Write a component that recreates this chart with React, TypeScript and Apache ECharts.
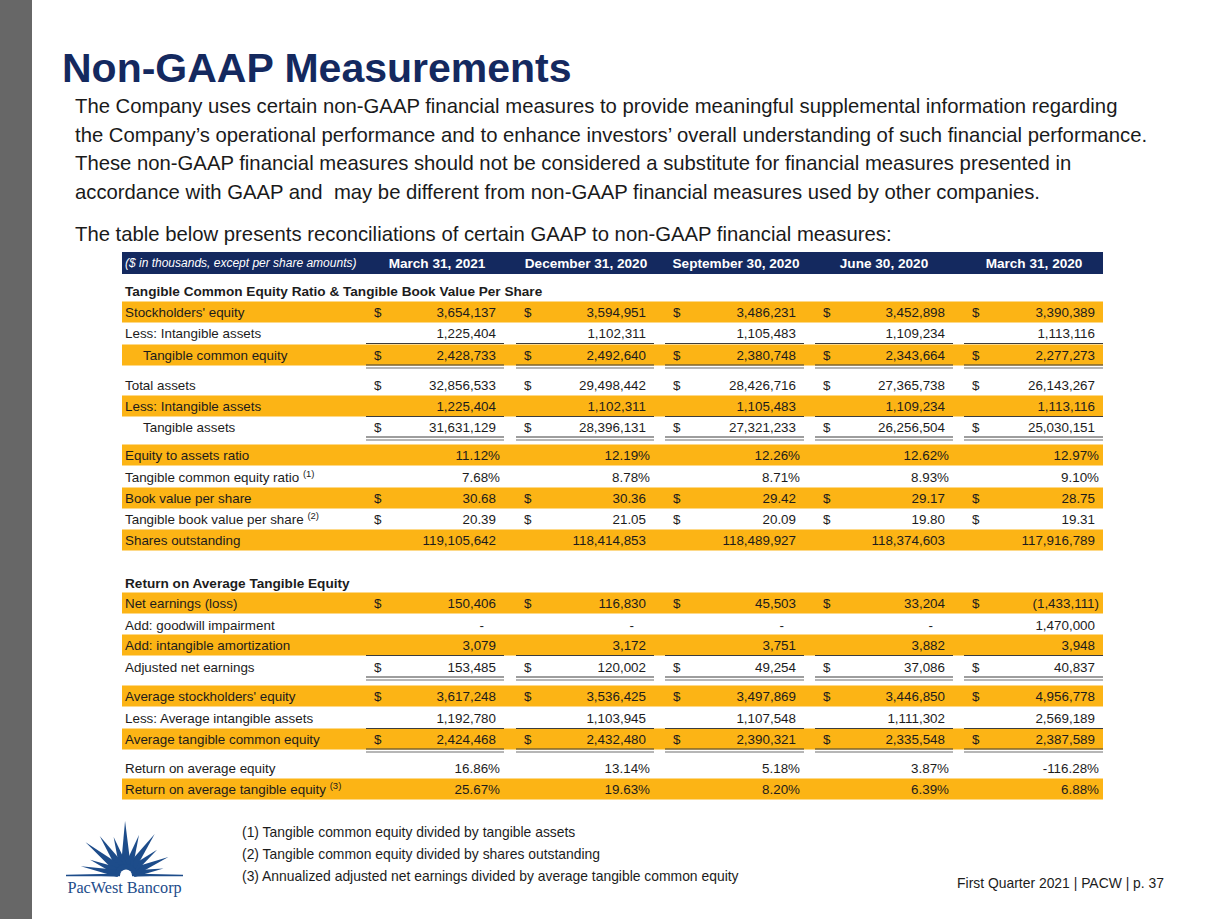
import React, { useEffect, useRef } from "react";
import * as echarts from "echarts";

// ---------------- DATA ----------------
const TITLE = "Non-GAAP Measurements";
const INTRO_LINES = [
  "The Company uses certain non-GAAP financial measures to provide meaningful supplemental information regarding",
  "the Company\u2019s operational performance and to enhance investors\u2019 overall understanding of such financial performance.",
  "These non-GAAP financial measures should not be considered a substitute for financial measures presented in",
  "accordance with GAAP and  may be different from non-GAAP financial measures used by other companies.",
];
const TABLE_NOTE = "The table below presents reconciliations of certain GAAP to non-GAAP financial measures:";
const UNITS_NOTE = "($ in thousands, except per share amounts)";
const periods = ["March 31, 2021", "December 31, 2020", "September 30, 2020", "June 30, 2020", "March 31, 2020"];
const SECTION_TITLES = [
  "Tangible Common Equity Ratio & Tangible Book Value Per Share",
  "Return on Average Tangible Equity",
];

const stockholdersEquity = [3654137, 3594951, 3486231, 3452898, 3390389];
const intangibleAssets = [1225404, 1102311, 1105483, 1109234, 1113116];
const tangibleCommonEquity = [2428733, 2492640, 2380748, 2343664, 2277273];
const totalAssets = [32856533, 29498442, 28426716, 27365738, 26143267];
const tangibleAssets = [31631129, 28396131, 27321233, 26256504, 25030151];
const equityToAssets = [11.12, 12.19, 12.26, 12.62, 12.97];
const tceRatio = [7.68, 8.78, 8.71, 8.93, 9.1];
const bookValue = [30.68, 30.36, 29.42, 29.17, 28.75];
const tangibleBookValue = [20.39, 21.05, 20.09, 19.8, 19.31];
const sharesOutstanding = [119105642, 118414853, 118489927, 118374603, 117916789];
const netEarnings = [150406, 116830, 45503, 33204, -1433111];
const goodwillImpairment = [null, null, null, null, 1470000];
const intangibleAmortization = [3079, 3172, 3751, 3882, 3948];
const adjustedNetEarnings = [153485, 120002, 49254, 37086, 40837];
const avgStockholdersEquity = [3617248, 3536425, 3497869, 3446850, 4956778];
const avgIntangibleAssets = [1192780, 1103945, 1107548, 1111302, 2569189];
const avgTangibleEquity = [2424468, 2432480, 2390321, 2335548, 2387589];
const returnOnAvgEquity = [16.86, 13.14, 5.18, 3.87, -116.28];
const returnOnAvgTangibleEquity = [25.67, 19.63, 8.2, 6.39, 6.88];

const FOOTNOTES = [
  "(1) Tangible common equity divided by tangible assets",
  "(2) Tangible common equity divided by shares outstanding",
  "(3) Annualized adjusted net earnings divided by average tangible common equity",
];
const FOOTER = "First Quarter 2021 | PACW | p. 37";
const LOGO_TEXT = "PacWest Bancorp";

type Fmt = "int" | "pct" | "dec";
interface RowDef {
  label: string;
  values: (number | null)[];
  fmt: Fmt;
  dollar?: boolean;
  sup?: string;
  indent?: boolean;
  rule?: "single" | "double";
}

const rows: RowDef[] = [
  { label: "Stockholders' equity", values: stockholdersEquity, fmt: "int", dollar: true },
  { label: "Less: Intangible assets", values: intangibleAssets, fmt: "int", rule: "single" },
  { label: "Tangible common equity", values: tangibleCommonEquity, fmt: "int", dollar: true, indent: true, rule: "double" },
  { label: "Total assets", values: totalAssets, fmt: "int", dollar: true },
  { label: "Less: Intangible assets", values: intangibleAssets, fmt: "int", rule: "single" },
  { label: "Tangible assets", values: tangibleAssets, fmt: "int", dollar: true, indent: true, rule: "double" },
  { label: "Equity to assets ratio", values: equityToAssets, fmt: "pct" },
  { label: "Tangible common equity ratio", sup: "(1)", values: tceRatio, fmt: "pct" },
  { label: "Book value per share", values: bookValue, fmt: "dec", dollar: true },
  { label: "Tangible book value per share", sup: "(2)", values: tangibleBookValue, fmt: "dec", dollar: true },
  { label: "Shares outstanding", values: sharesOutstanding, fmt: "int" },
  { label: "Net earnings (loss)", values: netEarnings, fmt: "int", dollar: true },
  { label: "Add: goodwill impairment", values: goodwillImpairment, fmt: "int" },
  { label: "Add: intangible amortization", values: intangibleAmortization, fmt: "int", rule: "single" },
  { label: "Adjusted net earnings", values: adjustedNetEarnings, fmt: "int", dollar: true, rule: "double" },
  { label: "Average stockholders' equity", values: avgStockholdersEquity, fmt: "int", dollar: true },
  { label: "Less: Average intangible assets", values: avgIntangibleAssets, fmt: "int", rule: "single" },
  { label: "Average tangible common equity", values: avgTangibleEquity, fmt: "int", dollar: true, rule: "double" },
  { label: "Return on average equity", values: returnOnAvgEquity, fmt: "pct" },
  { label: "Return on average tangible equity", sup: "(3)", values: returnOnAvgTangibleEquity, fmt: "pct" },
];

// ---------------- LAYOUT / STYLE ----------------
const SANS = "'Liberation Sans', Arial, Helvetica, sans-serif";
const SERIF = "'Liberation Serif', 'Times New Roman', serif";
const NAVY = "#14295f";
const GOLD = "#fcb415";
const TEXT = "#1c1c1c";
const LOGO_BLUE = "#1d4c8a";

const TABLE_LEFT = 122;
const TABLE_RIGHT = 1103;
const LABEL_X = 125;
const INDENT = 18;
const HEADER_TOP = 252;
const HEADER_H = 22;
const ROW_H = 21;
const ROW_Y = [312, 333, 355, 385, 406, 427, 455, 477, 498, 519, 540, 603, 625, 645, 667, 696, 718, 739, 768, 789];
const BAND = [true, false, true, false, true, false, true, false, true, false, true, true, false, true, false, true, false, true, false, true];
const SECTION_Y = [291, 583];
const DOLLAR_X = [374, 524, 673, 823, 972];
const VALUE_END = [496, 646, 796, 945, 1095];
const HEAD_CX = [437, 586, 736, 884, 1034];
const ROW_FONT = 13.4;

function formatValue(v: number | null, fmt: Fmt): string {
  if (v === null) return "-";
  if (fmt === "pct") return v.toFixed(2) + "%";
  if (fmt === "dec") return v.toFixed(2);
  const s = Math.abs(v).toLocaleString("en-US");
  return v < 0 ? "(" + s + ")" : s;
}

function txt(text: string, x: number, y: number, opts: any = {}) {
  const align = opts.align || "left";
  const va = opts.va || "middle";
  return {
    type: "text",
    x,
    y,
    silent: true,
    style: {
      text,
      fill: opts.fill || TEXT,
      fontSize: opts.size || ROW_FONT,
      fontFamily: opts.family || SANS,
      fontWeight: opts.weight || "normal",
      fontStyle: opts.style || "normal",
      align,
      verticalAlign: va,
      textAlign: align,
      textVerticalAlign: va,
      rich: opts.rich,
    },
  };
}

function hline(x1: number, x2: number, y: number, color: string, w: number) {
  return { type: "line", silent: true, shape: { x1, y1: y, x2, y2: y }, style: { stroke: color, lineWidth: w } };
}

// logo rays: [angle deg, length, half width]
const RAYS: number[][] = [
  [0, 57, 1.6], [10, 38, 3.4], [23, 46, 4.2], [39, 40, 4], [55, 50, 4.6], [72, 42, 4.2],
  [91, 54, 5], [108, 40, 4.2], [124, 47, 4.6], [141, 52, 4.6], [157, 39, 4], [169, 46, 3.6], [180, 60, 1.6],
];

function buildElements() {
  const els: any[] = [];
  // page
  els.push({ type: "rect", silent: true, shape: { x: 0, y: 0, width: 1225, height: 919 }, style: { fill: "#ffffff" } });
  els.push({ type: "rect", silent: true, shape: { x: 0, y: 0, width: 32, height: 919 }, style: { fill: "#676767" } });

  // title + intro
  els.push(txt(TITLE, 62, 68, { size: 41, weight: "bold", fill: NAVY }));
  INTRO_LINES.forEach((l, i) => els.push(txt(l, 75, 106 + i * 28.5, { size: 20.3, fill: "#1a1a1a" })));
  els.push(txt(TABLE_NOTE, 75, 234, { size: 20.3, fill: "#1a1a1a" }));

  // header bar
  els.push({ type: "rect", silent: true, shape: { x: TABLE_LEFT, y: HEADER_TOP, width: TABLE_RIGHT - TABLE_LEFT, height: HEADER_H }, style: { fill: NAVY } });
  els.push(txt(UNITS_NOTE, LABEL_X, HEADER_TOP + HEADER_H / 2, { size: 12, style: "italic", fill: "#ffffff" }));
  periods.forEach((p, i) =>
    els.push(txt(p, HEAD_CX[i], HEADER_TOP + HEADER_H / 2, { size: 13.6, weight: "bold", fill: "#ffffff", align: "center" }))
  );

  // section titles
  SECTION_TITLES.forEach((t, i) => els.push(txt(t, LABEL_X, SECTION_Y[i], { size: 13.6, weight: "bold" })));

  // bands first
  rows.forEach((r, i) => {
    if (BAND[i]) {
      els.push({
        type: "rect",
        silent: true,
        shape: { x: TABLE_LEFT, y: ROW_Y[i] - ROW_H / 2, width: TABLE_RIGHT - TABLE_LEFT, height: ROW_H },
        style: { fill: GOLD },
      });
    }
  });

  // row contents
  rows.forEach((r, i) => {
    const y = ROW_Y[i];
    const lx = LABEL_X + (r.indent ? INDENT : 0);
    if (r.sup) {
      els.push(
        txt(r.label + " {s|" + r.sup + "}", lx, y, {
          rich: {
            s: { fontSize: 9.5, fontFamily: SANS, fill: TEXT, verticalAlign: "top", lineHeight: 17 },
          },
        })
      );
    } else {
      els.push(txt(r.label, lx, y));
    }
    r.values.forEach((v, c) => {
      if (r.dollar) els.push(txt("$", DOLLAR_X[c], y));
      const s = formatValue(v, r.fmt);
      let end = VALUE_END[c];
      if (v === null) end -= 12;
      else if (r.fmt === "pct" || (v < 0 && r.fmt === "int")) end += 4;
      els.push(txt(s, end, y, { align: "right" }));
      if (r.rule === "single") {
        els.push(hline(DOLLAR_X[c] - 8, VALUE_END[c] + 8, y + ROW_H / 2, "#3c3c3c", 1.2));
      } else if (r.rule === "double") {
        els.push(hline(DOLLAR_X[c] - 8, VALUE_END[c] + 8, y + ROW_H / 2 - 0.5, "#3c3c3c", 1.2));
        els.push(hline(DOLLAR_X[c] - 8, VALUE_END[c] + 8, y + ROW_H / 2 + 2.5, "#6e6e6e", 1.2));
      }
    });
  });

  // footnotes & footer
  FOOTNOTES.forEach((f, i) => els.push(txt(f, 242, 832 + i * 22, { size: 13.9 })));
  els.push(txt(FOOTER, 1164, 883, { size: 13.9, align: "right" }));

  // logo
  const cx = 126;
  const cy = 875;
  RAYS.forEach(([a, L, hw]) => {
    const rad = (a * Math.PI) / 180;
    const dx = Math.cos(rad);
    const dy = -Math.sin(rad);
    const px = Math.sin(rad);
    const py = Math.cos(rad);
    const r0 = 8;
    els.push({
      type: "polygon",
      silent: true,
      shape: {
        points: [
          [cx + r0 * dx + hw * px, cy + r0 * dy + hw * py],
          [cx + L * dx, cy + L * dy],
          [cx + r0 * dx - hw * px, cy + r0 * dy - hw * py],
        ],
      },
      style: { fill: LOGO_BLUE },
    });
  });
  els.push({ type: "sector", silent: true, shape: { cx, cy, r: 11, r0: 0, startAngle: Math.PI, endAngle: Math.PI * 2 }, style: { fill: LOGO_BLUE } });
  els.push({ type: "sector", silent: true, shape: { cx, cy: cy + 0.5, r: 6, r0: 0, startAngle: Math.PI, endAngle: Math.PI * 2 }, style: { fill: "#ffffff" } });
  els.push(hline(cx - 60, cx - 6, cy + 0.5, LOGO_BLUE, 1.4));
  els.push(hline(cx + 6, cx + 57, cy + 0.5, LOGO_BLUE, 1.4));
  els.push(txt(LOGO_TEXT, 124.5, 888, { size: 16.2, family: SERIF, fill: LOGO_BLUE, align: "center" }));

  return els;
}

export default function App() {
  const ref = useRef<HTMLDivElement>(null);
  useEffect(() => {
    document.body.style.margin = "0";
    const chart = echarts.init(ref.current as HTMLDivElement, null, { renderer: "svg" });
    chart.setOption({ animation: false, graphic: { elements: buildElements() } });
    return () => chart.dispose();
  }, []);
  return <div ref={ref} style={{ width: 1225, height: 919, background: "#ffffff" }} />;
}
